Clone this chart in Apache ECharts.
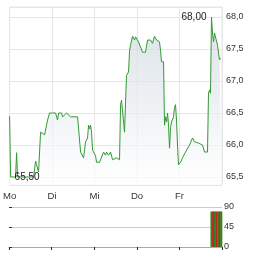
<!DOCTYPE html>
<html>
<head>
<meta charset="utf-8">
<script src="https://cdn.jsdelivr.net/npm/echarts@6/dist/echarts.min.js"></script>
<style>html,body{margin:0;padding:0;background:#fff}#c{width:264px;height:255px}</style>
</head>
<body>
<div id="c"></div>
<script>
var dayLabels = ['Mo', 'Di', 'Mi', 'Do', 'Fr'];
var times = [0,0.024,0.141,0.165,0.188,0.376,0.565,0.612,0.635,0.682,0.729,0.776,0.824,0.871,0.894,0.941,
1.012,1.082,1.129,1.153,1.224,1.247,1.294,1.341,1.388,1.435,1.6,1.647,1.671,1.718,1.741,1.765,1.788,1.835,1.859,1.882,1.906,1.929,1.953,1.976,
2.0,2.024,2.047,2.118,2.165,2.212,2.259,2.282,2.329,2.376,2.424,2.471,2.518,2.565,2.588,2.612,2.635,2.682,2.706,2.729,2.753,2.8,2.824,2.847,2.894,2.941,2.965,
3.012,3.035,3.082,3.129,3.2,3.247,3.318,3.365,3.412,3.459,3.482,3.529,3.553,3.576,3.624,3.647,3.671,3.694,3.718,3.741,3.765,3.788,3.812,3.859,3.882,3.906,3.929,3.953,3.976,
4.0,4.024,4.071,4.118,4.141,4.188,4.235,4.259,4.306,4.353,4.4,4.447,4.494,4.541,4.588,4.659,4.682,4.706,4.729,4.753,4.776,4.8,4.824,4.871,4.894,4.918,4.941,4.965,4.988];
var prices = [66.45,65.50,65.50,65.88,65.50,65.50,65.50,65.75,65.69,65.58,66.20,66.20,66.16,66.16,66.39,66.50,
66.50,66.50,66.39,66.50,66.50,66.44,66.44,66.50,66.50,66.44,66.44,66.44,65.89,65.89,65.80,65.80,66.05,66.11,66.31,66.25,66.31,66.20,65.92,65.92,
65.89,65.83,65.73,65.73,65.73,65.89,65.84,65.89,65.84,65.89,65.77,65.77,65.80,65.80,65.77,66.63,66.70,66.70,66.20,66.66,67.09,67.14,67.48,67.56,67.70,67.64,67.69,
67.67,67.61,67.61,67.45,67.45,67.64,67.64,67.59,67.70,67.64,67.67,67.61,67.48,67.30,67.30,66.31,66.44,66.36,66.50,66.31,65.95,66.27,66.36,66.44,66.59,66.63,66.39,66.00,65.69,
65.66,65.73,65.80,65.81,65.89,65.89,66.00,66.03,66.11,66.05,66.08,66.03,66.05,66.00,65.89,65.89,66.81,66.86,66.81,68.00,67.75,67.61,67.75,67.75,67.56,67.44,67.33,67.36,67.33];
var priceMin = 65.375, priceMax = 68.15625;
var volTimes = [4.753, 4.791, 4.831, 4.868, 4.908, 4.946, 4.984];
var volValues = [80, 80, 80, 80, 80, 80, 80];
var volUp = [true, false, true, false, true, false, true];
var volTicks = [0, 45, 90];

function fmt(v, d) { return v.toFixed(d).replace('.', ','); }

var lineData = times.map(function (t, i) { return [t, prices[i]]; });
var volData = volTimes.map(function (t, i) {
  return { value: [t, volValues[i]], itemStyle: { color: volUp[i] ? '#1e8a1e' : '#c8201e' } };
});

var font = 'Arial, "Liberation Sans", sans-serif';
var chart = echarts.init(document.getElementById('c'), null, { renderer: 'canvas' });
chart.setOption({
  animation: false,
  grid: [
    { left: 9, right: 42, top: 7, height: 178, show: true, borderColor: '#e6e6e6', borderWidth: 1 },
    { left: 9, right: 42, top: 207, height: 40 }
  ],
  xAxis: [
    { type: 'value', gridIndex: 0, min: 0, max: 5, interval: 1,
      axisLine: { show: false }, axisTick: { show: false },
      splitLine: { show: true, lineStyle: { color: '#e6e6e6', width: 1 } },
      axisLabel: { margin: 6, fontSize: 9.5, fontFamily: font, color: '#333',
        formatter: function (v) { return dayLabels[Math.round(v)] || ''; } } },
    { type: 'value', gridIndex: 1, min: 0, max: 5, interval: 1, position: 'top',
      axisLine: { show: true, lineStyle: { color: '#aaa', width: 1 } },
      axisTick: { show: true, inside: true, length: 3, lineStyle: { color: '#333' } },
      axisLabel: { show: false }, splitLine: { show: false } }
  ],
  yAxis: [
    { type: 'value', gridIndex: 0, position: 'right', min: priceMin, max: priceMax, splitNumber: 5,
      axisLine: { show: false }, axisTick: { show: false },
      splitLine: { show: true, lineStyle: { color: '#e6e6e6', width: 1 } },
      axisLabel: { margin: 4, fontSize: 9, fontFamily: font, color: '#333', showMinLabel: false, showMaxLabel: false,
        formatter: function (v) { return fmt(v, 1); } } },
    { type: 'value', gridIndex: 1, position: 'right', min: volTicks[0], max: volTicks[2], interval: 45,
      axisLine: { show: false },
      axisTick: { show: true, length: 3, lineStyle: { color: '#333' } },
      splitLine: { show: true, lineStyle: { color: '#cccccc', width: 1 } },
      axisLabel: { margin: 2, fontSize: 9, fontFamily: font, color: '#333' } }
  ],
  series: [
    { type: 'line', xAxisIndex: 0, yAxisIndex: 0, data: lineData, symbol: 'none',
      lineStyle: { color: '#339933', width: 1 },
      areaStyle: { color: new echarts.graphic.LinearGradient(0, 0, 0, 1, [
        { offset: 0, color: '#cdd6de' }, { offset: 1, color: '#ffffff' }]) },
      markPoint: {
        symbol: 'circle', symbolSize: 0,
        data: [
          { type: 'max', label: { position: 'left', distance: 5 } },
          { type: 'min', label: { position: 'right', distance: 4 } }
        ],
        label: { show: true, fontSize: 10, fontFamily: font, color: '#222',
          formatter: function (p) { return fmt(p.value, 2); } }
      } },
    { type: 'bar', xAxisIndex: 1, yAxisIndex: 1, data: volData, barWidth: 2 }
  ]
});
</script>
</body>
</html>
